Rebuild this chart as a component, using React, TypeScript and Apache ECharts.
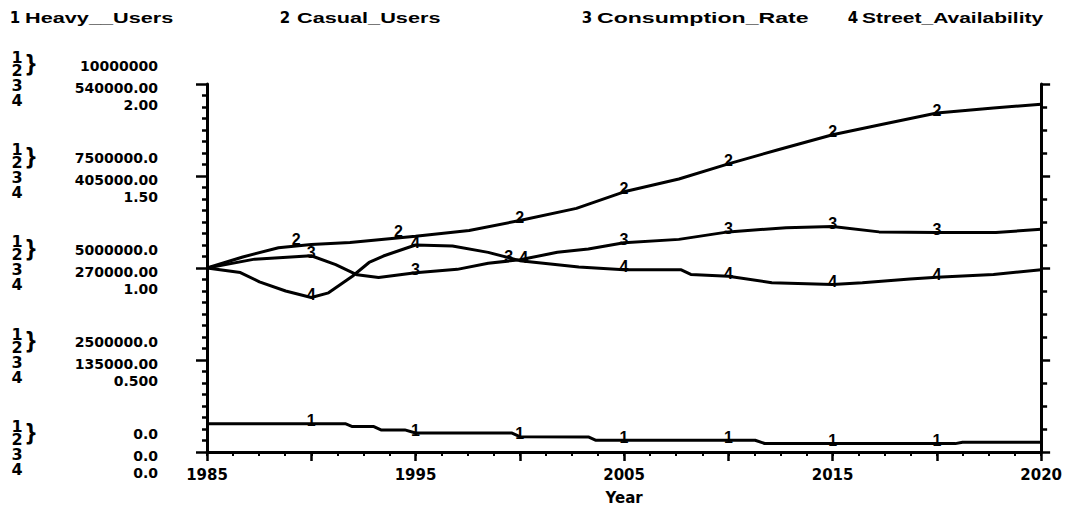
import React, { useEffect, useRef } from "react";
import * as echarts from "echarts";

// ---------- DATA ----------
const seriesNames = ["Heavy__Users", "Casual_Users", "Consumption_Rate", "Street_Availability"];
const seriesNumerals = ["1", "2", "3", "4"];

// years at which the plot prints the series number on the curve
const markerYears = [1989.375, 1993.75, 1998.125, 2002.5, 2006.875, 2011.25, 2015.625];

const heavyYears = [1985, 1989.375, 1990.8, 1991.1, 1992.0, 1992.3, 1993.3, 1993.75, 1997.8, 1998.125, 2001.0, 2001.3, 2002.5, 2006.875, 2008.0, 2008.4, 2011.25, 2015.625, 2016.4, 2016.7, 2020];
const heavyValues = [770000, 770000, 770000, 690000, 690000, 600000, 600000, 515000, 515000, 415000, 410000, 320000, 320000, 318000, 318000, 232000, 230000, 228000, 228000, 265000, 265000];

const casualYears = [1985, 1986.5, 1988, 1989.375, 1991, 1993.75, 1996, 1998.125, 2000.5, 2002.5, 2004.8, 2006.875, 2009, 2011.25, 2013.3, 2015.625, 2018, 2020];
const casualValues = [5.0e6, 5.3e6, 5.55e6, 5.64e6, 5.69e6, 5.86e6, 6.02e6, 6.29e6, 6.62e6, 7.07e6, 7.42e6, 7.83e6, 8.22e6, 8.62e6, 8.9e6, 9.21e6, 9.35e6, 9.45e6];

const rateYears = [1985, 1987, 1989.375, 1990.4, 1991.3, 1992.2, 1993.75, 1995.5, 1996.8, 1998.125, 1999.7, 2001, 2002.5, 2004.8, 2006.875, 2009.3, 2011.25, 2013.2, 2015.625, 2018.1, 2020];
const rateValues = [270000, 283000, 288000, 275000, 260000, 256000, 263000, 268000, 277000, 282000, 293000, 298000, 307000, 312000, 323000, 329000, 331000, 323000, 322000, 322000, 327000];

const streetYears = [1985, 1986.4, 1987.2, 1988.3, 1989.375, 1990.1, 1991.1, 1991.8, 1992.4, 1993.75, 1995.3, 1996.8, 1998.125, 2000.6, 2002.5, 2004.9, 2005.3, 2006.875, 2008.7, 2011.25, 2012.5, 2014.5, 2015.625, 2018, 2020];
const streetValues = [1.0, 0.975, 0.925, 0.875, 0.84, 0.865, 0.955, 1.03, 1.065, 1.125, 1.12, 1.085, 1.04, 1.005, 0.99, 0.99, 0.965, 0.955, 0.92, 0.91, 0.92, 0.94, 0.95, 0.965, 0.99];

const xTickLabels = ["1985", "1995", "2005", "2015", "2020"];
const xLabelValues = [1985, 1993.75, 2002.5, 2011.25, 2020];
const usersTickLabels = ["0.0", "2500000.0", "5000000.0", "7500000.0", "10000000"];
const rateTickLabels = ["0.0", "135000.00", "270000.00", "405000.00", "540000.00"];
const streetTickLabels = ["0.0", "0.500", "1.00", "1.50", "2.00"];

// ---------- LAYOUT ----------
const W = 1065;
const H = 510;
const GRID_LEFT = 207;
const GRID_RIGHT = 22;
const GRID_TOP = 84;
const GRID_BOTTOM = 57;
const PLOT_H = H - GRID_TOP - GRID_BOTTOM;

const X_MIN = 1985;
const X_MAX = 2020;
const majorTicks = Array.from({ length: 9 }, (_, k) => X_MIN + (k * (X_MAX - X_MIN)) / 8);
const minorTicks = Array.from({ length: 33 }, (_, k) => X_MIN + (k * (X_MAX - X_MIN)) / 32);

const AXIS_FONT = '"DejaVu Sans", sans-serif';
const TEXT_FONT = '"Liberation Sans", Arial, sans-serif';

// label placement tweaks (pixels) for curve numerals, keyed by marker year
const labelOffsets: Record<string, [number, number]>[] = [
  {},
  { "1989.375": [-15, -5], "1993.75": [-17, -5] },
  { "1998.125": [-11, -3] },
  { "1998.125": [4, -3] },
];

function buildData(years: number[], values: number[], sIdx: number) {
  return years.map((y, i) => {
    const marked = markerYears.some((m) => Math.abs(m - y) < 1e-6);
    if (!marked) return { value: [y, values[i]] };
    const off = labelOffsets[sIdx][String(y)] ?? [0, -3];
    return { value: [y, values[i]], label: { show: true, offset: off } };
  });
}

function txt(x: number, y: number, s: string, font: string, align = "center", extra: any = {}) {
  return {
    type: "text",
    x,
    y,
    silent: true,
    ...extra,
    style: {
      text: s,
      font,
      fill: "#000",
      textAlign: align,
      textVerticalAlign: "middle",
      align,
      verticalAlign: "middle",
    },
  };
}

function leftStackGraphics() {
  const els: any[] = [];
  for (let k = 0; k <= 4; k++) {
    const t = GRID_TOP + (k * PLOT_H) / 4;
    const nums = [
      { s: "1", dy: -26 },
      { s: "2", dy: -13 },
      { s: "3", dy: 2 },
      { s: "4", dy: 17 },
    ];
    nums.forEach((n) => {
      els.push(txt(17, t + n.dy, n.s, `bold 16px ${AXIS_FONT}`, "center", { scaleY: 0.95 }));
    });
    els.push(txt(31, t - 20, "}", `bold 19px ${AXIS_FONT}`, "center", { scaleY: 1.25 }));
  }
  return els;
}

const legendNumeralX = [15, 285, 587, 853];
const legendTextX = [25, 297, 597, 862];
const legendScaleX = [1.55, 1.55, 1.65, 1.5];

function legendGraphics() {
  const els: any[] = [];
  seriesNames.forEach((name, i) => {
    els.push(txt(legendNumeralX[i], 18, seriesNumerals[i], `bold 15px ${AXIS_FONT}`));
    els.push(txt(legendTextX[i], 18, name, `bold 14px ${TEXT_FONT}`, "left", { scaleX: legendScaleX[i] }));
  });
  return els;
}

export default function App() {
  const ref = useRef<HTMLDivElement>(null);

  useEffect(() => {
    if (!ref.current) return;
    const chart = echarts.init(ref.current, undefined, { renderer: "svg", width: W, height: H });

    const black = "#000";
    const lineSeries = (idx: number, years: number[], values: number[], yAxisIndex: number) => ({
      type: "line",
      name: seriesNames[idx],
      xAxisIndex: 0,
      yAxisIndex,
      data: buildData(years, values, idx),
      symbol: "circle",
      symbolSize: 1,
      showSymbol: true,
      showAllSymbol: true,
      itemStyle: { color: black },
      lineStyle: { color: black, width: 3 },
      label: {
        show: false,
        position: "inside",
        formatter: seriesNumerals[idx],
        color: black,
        fontFamily: TEXT_FONT,
        fontWeight: "bold",
        fontSize: 16,
      },
      emphasis: { disabled: true },
      z: 3,
    });

    const yLabelBase = {
      fontFamily: AXIS_FONT,
      fontWeight: "bold",
      fontSize: 14,
      lineHeight: 13,
      color: black,
      margin: 49,
      align: "right",
    };

    chart.setOption({
      animation: false,
      backgroundColor: "#fff",
      grid: { left: GRID_LEFT, right: GRID_RIGHT, top: GRID_TOP, bottom: GRID_BOTTOM, containLabel: false },
      xAxis: [
        {
          type: "value",
          min: X_MIN,
          max: X_MAX,
          axisLine: { show: true, lineStyle: { color: black, width: 3 } },
          axisTick: { show: true, customValues: majorTicks, length: 9, lineStyle: { color: black, width: 2.5 } },
          axisLabel: {
            customValues: xLabelValues,
            formatter: (v: number) => {
              const i = xLabelValues.findIndex((x) => Math.abs(x - v) < 1e-6);
              return i >= 0 ? xTickLabels[i] : "";
            },
            fontFamily: AXIS_FONT,
            fontWeight: "bold",
            fontSize: 15,
            color: black,
            margin: 15,
            showMinLabel: true,
            showMaxLabel: true,
          },
          splitLine: { show: false },
          name: "Year",
          nameLocation: "middle",
          nameGap: 38,
          nameTextStyle: { fontFamily: AXIS_FONT, fontWeight: "bold", fontSize: 15, color: black },
        },
        {
          type: "value",
          min: X_MIN,
          max: X_MAX,
          position: "bottom",
          axisLine: { show: false },
          axisTick: { show: true, customValues: minorTicks, length: 4, lineStyle: { color: black, width: 2 } },
          axisLabel: { show: false },
          splitLine: { show: false },
        },
      ],
      yAxis: [
        {
          type: "value",
          min: 0,
          max: 10e6,
          interval: 2.5e6,
          position: "left",
          axisLine: { show: true, lineStyle: { color: black, width: 3 } },
          axisTick: { show: true, length: 11, lineStyle: { color: black, width: 2.5 } },
          minorTick: { show: true, splitNumber: 8, length: 5, lineStyle: { color: black, width: 2.5 } },
          axisLabel: {
            ...yLabelBase,
            formatter: (v: number) => `{a|${usersTickLabels[Math.round(v / 2.5e6)] ?? ""}}`,
            rich: { a: { ...yLabelBase, padding: [0, 0, 36, 0] } },
          },
          splitLine: { show: false },
        },
        {
          type: "value",
          min: 0,
          max: 540000,
          interval: 135000,
          position: "left",
          axisLine: { show: false },
          axisTick: { show: false },
          axisLabel: {
            ...yLabelBase,
            formatter: (v: number) => `{a|${rateTickLabels[Math.round(v / 135000)] ?? ""}}`,
            rich: { a: { ...yLabelBase, padding: [8, 0, 0, 0] } },
          },
          splitLine: { show: false },
        },
        {
          type: "value",
          min: 0,
          max: 2,
          interval: 0.5,
          position: "left",
          axisLine: { show: false },
          axisTick: { show: false },
          axisLabel: {
            ...yLabelBase,
            formatter: (v: number) => `{a|${streetTickLabels[Math.round(v / 0.5)] ?? ""}}`,
            rich: { a: { ...yLabelBase, padding: [42, 0, 0, 0] } },
          },
          splitLine: { show: false },
        },
        {
          type: "value",
          min: 0,
          max: 10e6,
          interval: 2.5e6,
          position: "right",
          axisLine: { show: true, lineStyle: { color: black, width: 3 } },
          axisTick: { show: true, length: 9, lineStyle: { color: black, width: 2.5 } },
          minorTick: { show: true, splitNumber: 4, length: 6, lineStyle: { color: black, width: 2.5 } },
          axisLabel: { show: false },
          splitLine: { show: false },
        },
      ],
      graphic: [...legendGraphics(), ...leftStackGraphics()],
      series: [
        lineSeries(0, heavyYears, heavyValues, 0),
        lineSeries(1, casualYears, casualValues, 0),
        lineSeries(2, rateYears, rateValues, 1),
        lineSeries(3, streetYears, streetValues, 2),
      ],
    });

    return () => {
      chart.dispose();
    };
  }, []);

  return (
    <div
      ref={ref}
      style={{ position: "absolute", left: 0, top: 0, width: W, height: H, background: "#fff" }}
    />
  );
}
